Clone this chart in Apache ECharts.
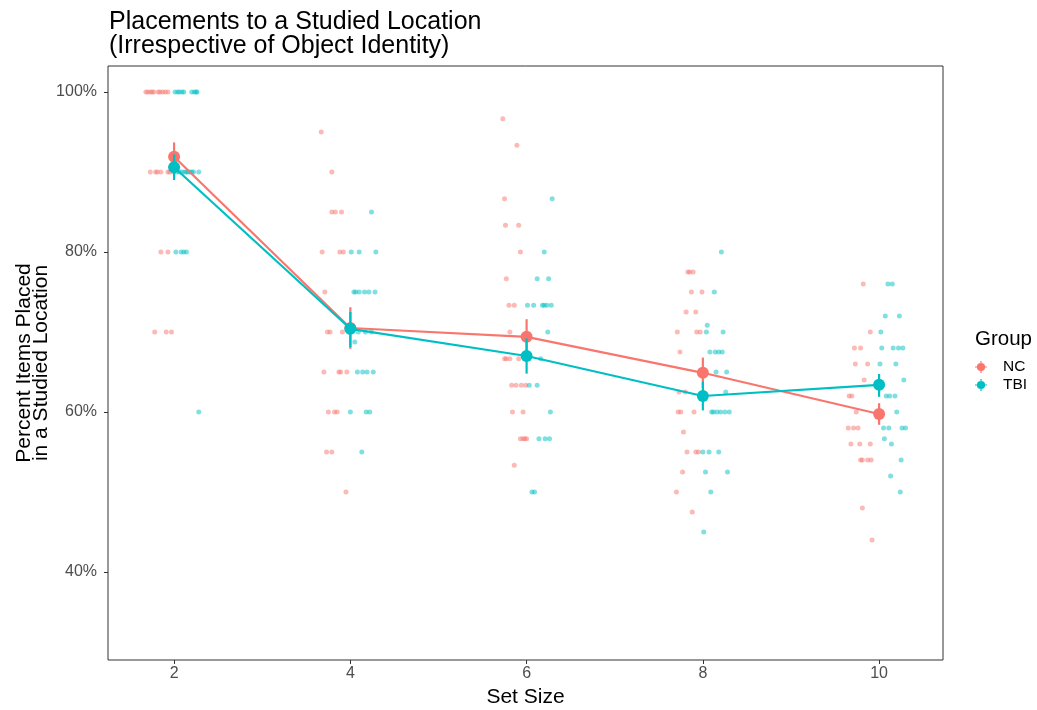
<!DOCTYPE html>
<html>
<head>
<meta charset="utf-8">
<script src="https://cdn.jsdelivr.net/npm/echarts@6/dist/echarts.min.js"></script>
<style>html,body{margin:0;padding:0;background:#fff}#c{width:1037px;height:710px}</style>
</head>
<body>
<div id="c"></div>
<script>
// ---- data ----
const setSizes = [2, 4, 6, 8, 10];
const xTicks = [2, 4, 6, 8, 10];
const yTicks = [40, 60, 80, 100];
const groups = ['NC', 'TBI'];

// group means and error-bar ranges per set size
const ncMean = [91.9, 70.5, 69.4, 64.9, 59.75];
const ncLow  = [90.1, 67.9, 67.2, 63.0, 58.4];
const ncHigh = [93.7, 73.1, 71.6, 66.8, 61.1];
const tbiMean = [90.6, 70.4, 67.0, 62.0, 63.4];
const tbiLow  = [89.0, 68.1, 64.8, 60.2, 61.9];
const tbiHigh = [92.2, 72.5, 69.2, 63.8, 64.75];

// individual (jittered) observations: [jittered set size, percent]
const ncPoints = [
  [1.68,100],[1.70,100],[1.73,100],[1.75,100],[1.77,100],[1.82,100],[1.84,100],[1.87,100],[1.90,100],[1.93,100],
  [1.73,90],[1.79,90],[1.81,90],[1.85,90],[1.93,90],[1.95,90],[1.99,90],
  [1.85,80],[1.93,80],
  [1.78,70],[1.91,70],[1.97,70],
  [3.67,95],[3.79,90],
  [3.79,85],[3.83,85],[3.90,85],
  [3.68,80],[3.88,80],[3.92,80],
  [3.71,75],
  [3.74,70],[3.77,70],[3.91,70],[3.98,70],
  [3.70,65],[3.87,65],[3.89,65],[3.96,65],
  [3.75,60],[3.82,60],[3.85,60],
  [3.73,55],[3.79,55],
  [3.95,50],
  [5.73,96.67],[5.89,93.33],
  [5.75,86.67],[5.76,83.33],[5.91,83.33],
  [5.93,80],[5.77,76.67],
  [5.80,73.33],[5.86,73.33],
  [5.81,70],
  [5.75,66.67],[5.77,66.67],[5.81,66.67],[5.91,66.67],
  [5.83,63.33],[5.88,63.33],[5.94,63.33],[5.99,63.33],
  [5.84,60],[5.96,60],
  [5.93,56.67],[5.96,56.67],[5.98,56.67],[6.00,56.67],
  [5.86,53.33],
  [7.83,77.5],[7.85,77.5],[7.89,77.5],
  [7.87,75],[7.99,75],
  [7.81,72.5],[7.92,72.5],
  [7.71,70],[7.93,70],[7.97,70],
  [7.74,67.5],
  [7.73,62.5],[7.80,62.5],
  [7.72,60],[7.75,60],[7.90,60],
  [7.78,57.5],
  [7.82,55],[7.92,55],[7.95,55],
  [7.77,52.5],
  [7.70,50],
  [7.88,47.5],
  [9.82,76],
  [9.90,70],
  [9.72,68],[9.79,68],
  [9.73,66],[9.87,66],
  [9.83,64],
  [9.66,62],[9.69,62],
  [9.74,60],
  [9.65,58],[9.71,58],[9.76,58],
  [9.68,56],[9.78,56],[9.90,56],
  [9.79,54],[9.81,54],[9.87,54],[9.91,54],
  [9.81,48],
  [9.92,44]
];
const tbiPoints = [
  [2.01,100],[2.04,100],[2.06,100],[2.09,100],[2.11,100],[2.20,100],[2.23,100],[2.25,100],[2.26,100],
  [2.03,90],[2.06,90],[2.09,90],[2.12,90],[2.14,90],[2.16,90],[2.18,90],[2.20,90],[2.22,90],[2.28,90],
  [2.02,80],[2.08,80],[2.11,80],[2.14,80],
  [2.28,60],
  [4.24,85],
  [4.01,80],[4.10,80],[4.29,80],
  [4.04,75],[4.06,75],[4.10,75],[4.16,75],[4.21,75],[4.28,75],
  [3.99,70],[4.09,70],[4.17,70],[4.24,70],
  [4.05,68.75],
  [4.08,65],[4.14,65],[4.19,65],[4.26,65],
  [4.00,60],[4.18,60],[4.22,60],
  [4.13,55],
  [6.29,86.67],
  [6.20,80],
  [6.12,76.67],[6.25,76.67],
  [6.01,73.33],[6.08,73.33],[6.18,73.33],[6.20,73.33],[6.23,73.33],[6.28,73.33],
  [6.24,70],
  [6.16,66.67],
  [6.03,63.33],[6.12,63.33],
  [6.27,60],
  [6.14,56.67],[6.21,56.67],[6.26,56.67],
  [6.06,50],[6.09,50],
  [8.21,80],
  [8.13,75],
  [8.05,70.83],
  [8.04,70],[8.23,70],
  [8.08,67.5],[8.14,67.5],[8.18,67.5],[8.22,67.5],
  [8.15,65],[8.27,65],
  [8.26,62.5],
  [8.10,60],[8.12,60],[8.16,60],[8.20,60],[8.25,60],[8.30,60],
  [8.00,55],[8.07,55],[8.18,55],
  [8.03,52.5],[8.28,52.5],
  [8.09,50],
  [8.01,45],
  [10.10,76],[10.15,76],
  [10.07,72],[10.23,72],
  [10.02,70],
  [10.03,68],[10.16,68],[10.22,68],[10.27,68],
  [10.01,66],[10.19,66],
  [10.28,64],
  [10.08,62],[10.12,62],[10.18,62],
  [10.20,60],
  [10.05,58],[10.11,58],[10.26,58],[10.30,58],
  [10.06,56.67],
  [10.14,56],
  [10.25,54],
  [10.13,52],
  [10.24,50]
];

const RED = '#F8766D', TEAL = '#00BFC4';
const FONT = 'Liberation Sans, Arial, Helvetica, sans-serif';

const pair = (xs, ys) => xs.map((x, i) => [x, ys[i]]);
const ranges = (xs, lo, hi) => xs.map((x, i) => [x, lo[i], hi[i]]);

function errBar(color) {
  return function (params, api) {
    const p1 = api.coord([api.value(0), api.value(1)]);
    const p2 = api.coord([api.value(0), api.value(2)]);
    return {
      type: 'line',
      shape: { x1: p1[0], y1: p1[1], x2: p2[0], y2: p2[1] },
      style: { stroke: color, lineWidth: 2.2 }
    };
  };
}

const legendIcon = 'path://M6.3,0H7.7V14H6.3Z M0,6.3H14V7.7H0Z M7,2.2A4.8,4.8,0,1,1,6.999,2.2Z';

const chart = echarts.init(document.getElementById('c'), null, { renderer: 'canvas' });
chart.setOption({
  animation: false,
  backgroundColor: '#ffffff',
  textStyle: { fontFamily: FONT },
  title: {
    text: 'Placements to a Studied Location\n(Irrespective of Object Identity)',
    left: 109, top: 10, padding: 0,
    textStyle: { fontSize: 25, fontWeight: 'normal', color: '#000', lineHeight: 24, fontFamily: FONT }
  },
  grid: { left: 108, top: 66, width: 835, height: 594, show: true, borderColor: '#333333', borderWidth: 1,
          backgroundColor: 'transparent', outerBoundsMode: 'none', containLabel: false },
  xAxis: {
    type: 'value', min: 1.25, max: 10.725,
    name: 'Set Size', nameLocation: 'middle', nameGap: 25,
    nameTextStyle: { fontSize: 21, color: '#000', fontFamily: FONT },
    axisLine: { show: false },
    splitLine: { show: false },
    axisTick: { show: true, length: 4, lineStyle: { color: '#333' }, customValues: xTicks },
    axisLabel: { fontSize: 16, color: '#4D4D4D', margin: 6, customValues: xTicks }
  },
  yAxis: {
    type: 'value', min: 29, max: 103.25,
    name: 'Percent Items Placed\nin a Studied Location', nameLocation: 'middle', nameGap: 58,
    nameMoveOverlap: false,
    nameTextStyle: { fontSize: 21, color: '#000', lineHeight: 17, fontFamily: FONT },
    axisLine: { show: false },
    splitLine: { show: false },
    axisTick: { show: true, length: 4, lineStyle: { color: '#333' }, customValues: yTicks },
    axisLabel: { fontSize: 16, color: '#4D4D4D', margin: 11, customValues: yTicks, formatter: '{value}%' }
  },
  legend: {
    data: groups.map((g, i) => ({ name: g, icon: legendIcon, itemStyle: { color: i ? TEAL : RED, opacity: 1 } })),
    orient: 'vertical', left: 975, top: 359, padding: 0,
    itemWidth: 12, itemHeight: 12, itemGap: 2,
    formatter: '{t|{name}}',
    textStyle: { fontSize: 15.5, color: '#000', fontFamily: FONT, rich: { t: { fontSize: 15.5, padding: [0, 0, 0, 11], color: '#000' } } },
    selectedMode: false
  },
  graphic: [{
    type: 'text', left: 975, top: 329,
    style: { text: 'Group', fontSize: 20.5, fill: '#000', fontFamily: FONT }
  }],
  series: [
    { name: 'NC', type: 'scatter', data: ncPoints, symbolSize: 5, itemStyle: { color: RED, opacity: 0.5 }, z: 2 },
    { name: 'TBI', type: 'scatter', data: tbiPoints, symbolSize: 5, itemStyle: { color: TEAL, opacity: 0.5 }, z: 2 },
    { name: 'NC', type: 'line', data: pair(setSizes, ncMean), symbol: 'none', lineStyle: { color: RED, width: 2.2 }, itemStyle: { color: RED }, z: 3 },
    { name: 'NC', type: 'custom', data: ranges(setSizes, ncLow, ncHigh), renderItem: errBar(RED), z: 3 },
    { name: 'NC', type: 'scatter', data: pair(setSizes, ncMean), symbolSize: 12, itemStyle: { color: RED, opacity: 1 }, z: 3 },
    { name: 'TBI', type: 'line', data: pair(setSizes, tbiMean), symbol: 'none', lineStyle: { color: TEAL, width: 2.2 }, itemStyle: { color: TEAL }, z: 4 },
    { name: 'TBI', type: 'custom', data: ranges(setSizes, tbiLow, tbiHigh), renderItem: errBar(TEAL), z: 4 },
    { name: 'TBI', type: 'scatter', data: pair(setSizes, tbiMean), symbolSize: 12, itemStyle: { color: TEAL, opacity: 1 }, z: 4 }
  ]
});
</script>
</body>
</html>
